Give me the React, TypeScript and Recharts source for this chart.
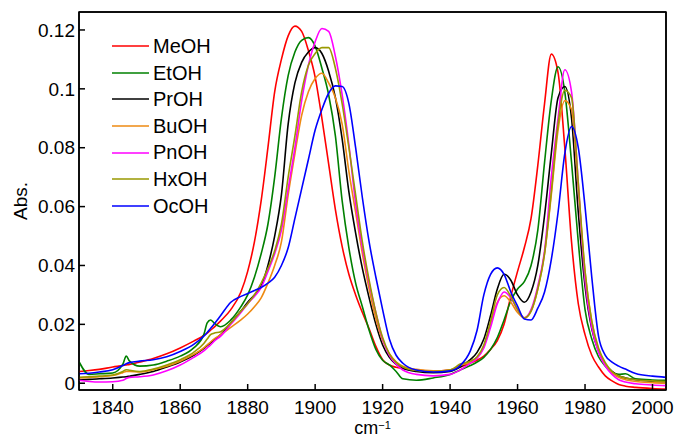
import { LineChart, Line, XAxis, YAxis, Legend, ReferenceArea } from 'recharts';

document.body.style.margin = '0';

const FONT = "'Liberation Sans', Arial, Helvetica, sans-serif";

// wavenumber grid (cm-1)
const wavenumber = [
  1830, 1833, 1836, 1840, 1843, 1844, 1845, 1848, 1852, 1856,
  1860, 1864, 1867, 1868, 1869, 1870, 1872, 1875, 1878, 1880,
  1882, 1884, 1886, 1888, 1890, 1892, 1894, 1896, 1898, 1900,
  1902, 1904, 1906, 1908, 1910, 1912, 1914, 1916, 1918, 1920,
  1922, 1924, 1926, 1930, 1935, 1940, 1943, 1946, 1948, 1950,
  1952, 1954, 1956, 1958, 1960, 1962, 1964, 1966, 1968, 1970,
  1972, 1974, 1976, 1978, 1980, 1982, 1984, 1986, 1988, 1990,
  1992, 1995, 2000, 2004,
];

const meoh = [
  0.0040, 0.0043, 0.0047, 0.0055, 0.0060, 0.0062, 0.0064, 0.0072, 0.0084, 0.0100,
  0.0120, 0.0143, 0.0162, 0.0170, 0.0180, 0.0190, 0.0212, 0.0250, 0.0310, 0.0380,
  0.0480, 0.0620, 0.0800, 0.0990, 0.1100, 0.1180, 0.1213, 0.1195, 0.1130, 0.1040,
  0.0900, 0.0745, 0.0590, 0.0465, 0.0370, 0.0300, 0.0240, 0.0185, 0.0125, 0.0080,
  0.0062, 0.0054, 0.0050, 0.0045, 0.0042, 0.0045, 0.0055, 0.0068, 0.0078, 0.0092,
  0.0115, 0.0145, 0.0200, 0.0295, 0.0380, 0.0460, 0.0560, 0.0740, 0.0950, 0.1118,
  0.1055, 0.0800, 0.0480, 0.0270, 0.0165, 0.0095, 0.0055, 0.0025, 0.0008, -0.0004,
  -0.0010, -0.0014, -0.0018, -0.0020,
];

const etoh = [
  0.0073, 0.0030, 0.0032, 0.0035, 0.0065, 0.0092, 0.0075, 0.0058, 0.0062, 0.0075,
  0.0092, 0.0120, 0.0165, 0.0205, 0.0215, 0.0205, 0.0192, 0.0215, 0.0260, 0.0300,
  0.0360, 0.0440, 0.0540, 0.0700, 0.0900, 0.1045, 0.1125, 0.1165, 0.1174, 0.1145,
  0.1070, 0.0980, 0.0840, 0.0620, 0.0460, 0.0340, 0.0260, 0.0180, 0.0115, 0.0078,
  0.0062, 0.0040, 0.0015, 0.0010, 0.0018, 0.0030, 0.0045, 0.0060, 0.0072, 0.0088,
  0.0115, 0.0155, 0.0215, 0.0280, 0.0320, 0.0345, 0.0400, 0.0520, 0.0750, 0.0960,
  0.1075, 0.0990, 0.0750, 0.0480, 0.0250, 0.0150, 0.0090, 0.0058, 0.0038, 0.0030,
  0.0032, 0.0015, 0.0011, 0.0010,
];

const proh = [
  0.0012, 0.0013, 0.0015, 0.0018, 0.0021, 0.0022, 0.0024, 0.0030, 0.0040, 0.0055,
  0.0072, 0.0095, 0.0118, 0.0128, 0.0137, 0.0146, 0.0165, 0.0205, 0.0245, 0.0275,
  0.0300, 0.0330, 0.0400, 0.0500, 0.0640, 0.0880, 0.1020, 0.1090, 0.1125, 0.1140,
  0.1120, 0.1060, 0.0970, 0.0830, 0.0650, 0.0510, 0.0390, 0.0290, 0.0200, 0.0130,
  0.0088, 0.0064, 0.0051, 0.0040, 0.0036, 0.0040, 0.0055, 0.0080, 0.0105, 0.0150,
  0.0230, 0.0320, 0.0370, 0.0350, 0.0300, 0.0275, 0.0310, 0.0400, 0.0570, 0.0780,
  0.0970, 0.1008, 0.0900, 0.0580, 0.0330, 0.0185, 0.0110, 0.0065, 0.0040, 0.0025,
  0.0018, 0.0012, 0.0007, 0.0005,
];

const buoh = [
  0.0018, 0.0020, 0.0022, 0.0026, 0.0036, 0.0040, 0.0040, 0.0038, 0.0046, 0.0058,
  0.0075, 0.0098, 0.0120, 0.0130, 0.0140, 0.0150, 0.0165, 0.0190, 0.0215, 0.0235,
  0.0260, 0.0290, 0.0340, 0.0400, 0.0480, 0.0640, 0.0780, 0.0910, 0.0990, 0.1035,
  0.1053, 0.1020, 0.0970, 0.0880, 0.0720, 0.0580, 0.0440, 0.0320, 0.0220, 0.0145,
  0.0100, 0.0073, 0.0058, 0.0047, 0.0042, 0.0045, 0.0060, 0.0072, 0.0088, 0.0125,
  0.0200, 0.0275, 0.0297, 0.0275, 0.0240, 0.0222, 0.0245, 0.0320, 0.0440, 0.0640,
  0.0860, 0.0960, 0.0930, 0.0660, 0.0380, 0.0210, 0.0115, 0.0065, 0.0035, 0.0020,
  0.0012, 0.0006, 0.0002, 0.0000,
];

const pnoh = [
  0.0010, 0.0006, 0.0004, 0.0005, 0.0010, 0.0016, 0.0020, 0.0022, 0.0028, 0.0042,
  0.0062, 0.0088, 0.0110, 0.0120, 0.0130, 0.0142, 0.0160, 0.0200, 0.0240, 0.0270,
  0.0295, 0.0325, 0.0380, 0.0440, 0.0520, 0.0660, 0.0800, 0.0960, 0.1080, 0.1160,
  0.1205, 0.1195, 0.1110, 0.0980, 0.0810, 0.0610, 0.0460, 0.0340, 0.0240, 0.0150,
  0.0095, 0.0065, 0.0045, 0.0030, 0.0025, 0.0030, 0.0045, 0.0068, 0.0085, 0.0120,
  0.0190, 0.0270, 0.0310, 0.0290, 0.0250, 0.0222, 0.0250, 0.0330, 0.0450, 0.0700,
  0.0900, 0.1065, 0.0990, 0.0680, 0.0350, 0.0190, 0.0105, 0.0058, 0.0030, 0.0012,
  0.0004, -0.0002, -0.0006, -0.0008,
];

const hxoh = [
  0.0020, 0.0022, 0.0024, 0.0028, 0.0040, 0.0046, 0.0044, 0.0040, 0.0048, 0.0062,
  0.0080, 0.0105, 0.0135, 0.0150, 0.0165, 0.0170, 0.0175, 0.0205, 0.0245, 0.0270,
  0.0300, 0.0340, 0.0390, 0.0450, 0.0540, 0.0700, 0.0840, 0.0990, 0.1080, 0.1120,
  0.1140, 0.1140, 0.1070, 0.0950, 0.0800, 0.0640, 0.0480, 0.0350, 0.0240, 0.0155,
  0.0100, 0.0071, 0.0055, 0.0043, 0.0040, 0.0045, 0.0065, 0.0075, 0.0090, 0.0130,
  0.0210, 0.0300, 0.0325, 0.0295, 0.0250, 0.0222, 0.0245, 0.0320, 0.0440, 0.0650,
  0.0880, 0.0995, 0.0970, 0.0680, 0.0380, 0.0210, 0.0120, 0.0070, 0.0040, 0.0025,
  0.0018, 0.0012, 0.0008, 0.0006,
];

const ocoh = [
  0.0032, 0.0034, 0.0038, 0.0046, 0.0060, 0.0066, 0.0070, 0.0075, 0.0080, 0.0090,
  0.0108, 0.0132, 0.0160, 0.0172, 0.0186, 0.0200, 0.0230, 0.0275, 0.0295, 0.0305,
  0.0315, 0.0325, 0.0340, 0.0360, 0.0400, 0.0460, 0.0560, 0.0660, 0.0760, 0.0860,
  0.0930, 0.0985, 0.1010, 0.1008, 0.0950, 0.0800, 0.0630, 0.0480, 0.0360, 0.0250,
  0.0150, 0.0095, 0.0068, 0.0045, 0.0038, 0.0042, 0.0060, 0.0110, 0.0180, 0.0300,
  0.0370, 0.0392, 0.0370, 0.0310, 0.0262, 0.0218, 0.0215, 0.0255, 0.0310, 0.0420,
  0.0580, 0.0780, 0.0872, 0.0800, 0.0600, 0.0360, 0.0160, 0.0095, 0.0072, 0.0058,
  0.0048, 0.0033, 0.0024, 0.0020,
];

const SERIES = [
  { name: 'MeOH', color: '#ff0000', values: meoh },
  { name: 'EtOH', color: '#008000', values: etoh },
  { name: 'PrOH', color: '#000000', values: proh },
  { name: 'BuOH', color: '#ee8a12', values: buoh },
  { name: 'PnOH', color: '#ff00ff', values: pnoh },
  { name: 'HxOH', color: '#999900', values: hxoh },
  { name: 'OcOH', color: '#0000ff', values: ocoh },
];

const xTicks = [1840, 1860, 1880, 1900, 1920, 1940, 1960, 1980, 2000];
const yTicks = [0, 0.02, 0.04, 0.06, 0.08, 0.1, 0.12];

const X_DOMAIN: [number, number] = [1830, 2004];
const Y_DOMAIN: [number, number] = [-0.0023, 0.1261];

const chartData = wavenumber.map((x, i) => {
  const point: Record<string, number> = { x };
  SERIES.forEach((s) => {
    point[s.name] = s.values[i];
  });
  return point;
});

const tickStyle = { fontSize: 19, fill: '#000', fontFamily: FONT };
const frame = { stroke: '#000', strokeWidth: 1.5 };

function LegendBox() {
  return (
    <div style={{ fontFamily: FONT, fontSize: 20, color: '#000' }}>
      {SERIES.map((s) => (
        <div key={s.name} style={{ display: 'flex', alignItems: 'center', height: 26.6 }}>
          <svg width={37} height={4} style={{ marginRight: 4, display: 'block' }}>
            <line x1={0} y1={2} x2={37} y2={2} stroke={s.color} strokeWidth={1.6} />
          </svg>
          <span style={{ lineHeight: '26.6px' }}>{s.name}</span>
        </div>
      ))}
    </div>
  );
}

export default function App() {
  return (
    <div style={{ width: 674, height: 438, background: '#fff' }}>
      <LineChart
        width={674}
        height={438}
        data={chartData}
        margin={{ top: 11, right: 7, bottom: 0, left: 0 }}
      >
        <XAxis
          xAxisId="bottom"
          dataKey="x"
          type="number"
          domain={X_DOMAIN}
          allowDataOverflow
          ticks={xTicks}
          height={48}
          tickSize={-6}
          tickMargin={17}
          tick={tickStyle}
          axisLine={frame}
          tickLine={frame}
          label={{
            content: (props: any) => {
              const vb = props.viewBox || { x: 79, width: 587 };
              const cx = vb.x + vb.width / 2;
              return (
                <text x={cx} y={434} textAnchor="middle" fontFamily={FONT} fontSize={18} fill="#000">
                  <tspan>cm</tspan>
                  <tspan fontSize={11} dy={-5}>−1</tspan>
                </text>
              );
            },
          }}
        />
        <XAxis
          xAxisId="top"
          orientation="top"
          dataKey="x"
          type="number"
          domain={X_DOMAIN}
          allowDataOverflow
          ticks={xTicks}
          height={1}
          tickSize={-6}
          tick={false}
          axisLine={frame}
          tickLine={frame}
        />
        <YAxis
          yAxisId="left"
          type="number"
          domain={Y_DOMAIN}
          allowDataOverflow
          ticks={yTicks}
          width={79}
          tickSize={-6}
          tickMargin={10}
          tick={tickStyle}
          tickFormatter={(v: number) => String(v)}
          axisLine={frame}
          tickLine={frame}
          label={{
            content: (props: any) => {
              const vb = props.viewBox || { y: 12, height: 378 };
              const cy = vb.y + vb.height / 2;
              return (
                <text
                  x={27}
                  y={cy}
                  transform={`rotate(-90 27 ${cy})`}
                  textAnchor="middle"
                  fontFamily={FONT}
                  fontSize={19}
                  fill="#000"
                >
                  Abs.
                </text>
              );
            },
          }}
        />
        <YAxis
          yAxisId="right"
          orientation="right"
          type="number"
          domain={Y_DOMAIN}
          allowDataOverflow
          ticks={yTicks}
          width={1}
          tickSize={-6}
          tick={false}
          axisLine={frame}
          tickLine={frame}
        />
        <ReferenceArea
          xAxisId="bottom"
          yAxisId="left"
          x1={X_DOMAIN[0]}
          x2={X_DOMAIN[1]}
          y1={Y_DOMAIN[0]}
          y2={Y_DOMAIN[1]}
          fill="none"
          fillOpacity={0}
          stroke="#000"
          strokeWidth={1.5}
          ifOverflow="visible"
        />
        <Legend
          layout="horizontal"
          align="center"
          verticalAlign="middle"
          content={<LegendBox />}
          wrapperStyle={{ left: 112, top: 33, width: 140, height: 190 }}
        />
        {SERIES.map((s) => (
          <Line
            key={s.name}
            xAxisId="bottom"
            yAxisId="left"
            type="monotone"
            dataKey={s.name}
            stroke={s.color}
            strokeWidth={1.6}
            dot={false}
            activeDot={false}
            isAnimationActive={false}
          />
        ))}
      </LineChart>
    </div>
  );
}
